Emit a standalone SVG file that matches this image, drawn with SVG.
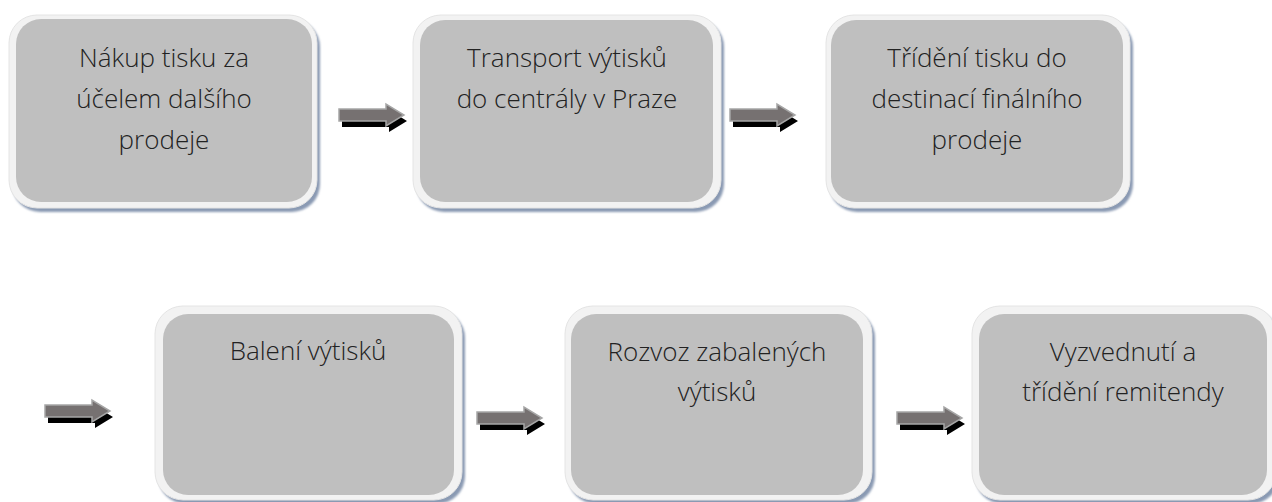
<svg xmlns="http://www.w3.org/2000/svg" width="1272" height="502" viewBox="0 0 1272 502">
<style>
.shadow{fill:#8a9ab3}
.frame{fill:#f2f2f2;stroke:#e4e4e4;stroke-width:1}
.inner{fill:#bfbfbf}
.label{font-family:"Open Sans","Liberation Sans",sans-serif;font-weight:300;font-size:26px;fill:#222;text-anchor:middle}
.ash{fill:#000}
.abody{fill:#767171;stroke:#a6a6a6;stroke-width:1.5;stroke-linejoin:miter}
</style>
<defs>
<filter id="blur" x="-10%" y="-10%" width="120%" height="120%"><feGaussianBlur stdDeviation="1"/></filter>
<g id="arrow">
<path class="ash" d="M3 11 H50 V6 L68 17 L50 28 V23 H3 Z"/>
<path class="abody" d="M0 5 H47 V0 L65 11 L47 22 V17 H0 Z"/>
</g>
</defs>
<rect width="1272" height="502" fill="#fff"/>
<g id="n1">
<rect class="shadow" x="12" y="19" width="308" height="193" rx="28" filter="url(#blur)"/>
<rect class="frame" x="9" y="15" width="308" height="193" rx="28"/>
<rect class="inner" x="16" y="19" width="296" height="183" rx="25"/>
<text class="label" x="164" y="67">Nákup tisku za</text>
<text class="label" x="164" y="108">účelem dalšího</text>
<text class="label" x="164" y="149">prodeje</text>
</g>
<g id="n2">
<rect class="shadow" x="416" y="19" width="308" height="193" rx="28" filter="url(#blur)"/>
<rect class="frame" x="413" y="15" width="308" height="193" rx="28"/>
<rect class="inner" x="420" y="20" width="293" height="182" rx="25"/>
<text class="label" x="567" y="67">Transport výtisků</text>
<text class="label" x="567" y="108">do centrály v Praze</text>
</g>
<g id="n3">
<rect class="shadow" x="829" y="19" width="304" height="193" rx="28" filter="url(#blur)"/>
<rect class="frame" x="826" y="15" width="304" height="193" rx="28"/>
<rect class="inner" x="831" y="20" width="292" height="182" rx="25"/>
<text class="label" x="977" y="67">Třídění tisku do</text>
<text class="label" x="977" y="108">destinací finálního</text>
<text class="label" x="977" y="149">prodeje</text>
</g>
<g id="n4">
<rect class="shadow" x="158" y="310" width="307" height="194" rx="28" filter="url(#blur)"/>
<rect class="frame" x="155" y="306" width="307" height="194" rx="28"/>
<rect class="inner" x="163" y="314" width="291" height="181" rx="25"/>
<text class="label" x="308" y="360">Balení výtisků</text>
</g>
<g id="n5">
<rect class="shadow" x="568" y="310" width="307" height="194" rx="28" filter="url(#blur)"/>
<rect class="frame" x="565" y="306" width="307" height="194" rx="28"/>
<rect class="inner" x="571" y="314" width="292" height="181" rx="25"/>
<text class="label" x="717" y="361">Rozvoz zabalených</text>
<text class="label" x="717" y="401">výtisků</text>
</g>
<g id="n6">
<rect class="shadow" x="975" y="310" width="304" height="194" rx="28" filter="url(#blur)"/>
<rect class="frame" x="972" y="306" width="304" height="194" rx="28"/>
<rect class="inner" x="979" y="314" width="288" height="181" rx="25"/>
<text class="label" x="1123" y="361">Vyzvednutí a</text>
<text class="label" x="1123" y="401">třídění remitendy</text>
</g>
<g id="connectors">
<use href="#arrow" x="339" y="104"/>
<use href="#arrow" x="730" y="104"/>
<use href="#arrow" x="45" y="400"/>
<use href="#arrow" x="477" y="407"/>
<use href="#arrow" x="897" y="407"/>
</g>
</svg>
